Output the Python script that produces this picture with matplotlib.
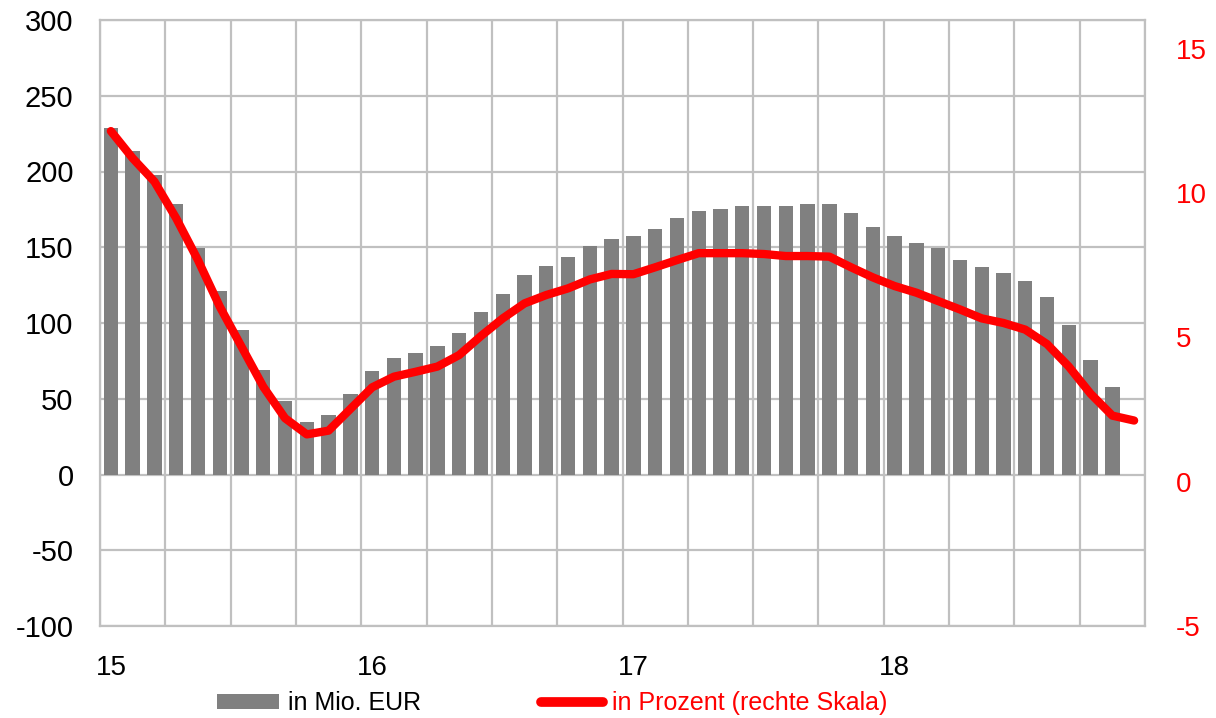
import matplotlib
matplotlib.use("Agg")
import matplotlib.pyplot as plt
from matplotlib.ticker import FixedLocator
from matplotlib.patches import Patch
from matplotlib.lines import Line2D

plt.rcParams["font.family"] = ["Liberation Sans", "DejaVu Sans"]
plt.rcParams["axes.unicode_minus"] = False

# Daten (Monatswerte Jan 2015 - Dez 2018)
jahre = ["15", "16", "17", "18"]
mio_eur = [228.5, 213.4, 198, 178.5, 149.8, 121, 95.2, 69.3, 48.3, 34.7, 39, 53,
           68, 76.8, 80, 84.5, 93.7, 107.2, 119.3, 131.4, 137.5, 143.4, 151.1, 155.7,
           157.2, 161.8, 169.3, 174, 175.5, 177, 177, 177, 178.5, 178.5, 172.4, 163.2,
           157.2, 152.6, 149.5, 141.7, 137, 132.7, 128, 117.4, 99, 75.7, 57.6]
prozent = [12.15, 11.21, 10.40, 9.13, 7.68, 6.07, 4.68, 3.29, 2.20, 1.64, 1.77, 2.52,
           3.27, 3.64, 3.81, 3.99, 4.39, 5.05, 5.66, 6.18, 6.47, 6.70, 7.01, 7.20,
           7.19, 7.43, 7.68, 7.92, 7.92, 7.92, 7.89, 7.82, 7.82, 7.80, 7.43, 7.08,
           6.78, 6.55, 6.26, 5.97, 5.66, 5.50, 5.27, 4.77, 3.99, 3.05, 2.29, 2.12]

grau = "#808080"
rot = "#FF0000"
gitter = "#C0C0C0"

fig = plt.figure(figsize=(12.16, 7.18), dpi=100)
ax = fig.add_axes([100 / 1216, 92 / 718, 1045 / 1216, 606 / 718])

# Balken (linke Skala)
ax.bar(range(len(mio_eur)), mio_eur, width=0.66, color=grau, zorder=2)
ax.set_xlim(-0.5, 47.5)
ax.set_ylim(-100, 300)
ax.set_yticks(range(-100, 301, 50))
ax.set_axisbelow(True)
ax.grid(axis="y", color=gitter, linewidth=1.6)

# Jahreslabels auf Januar, Gitter je Quartal
ax.set_xticks([0, 12, 24, 36])
ax.set_xticklabels(jahre)
ax.xaxis.set_minor_locator(FixedLocator([-0.5 + 3 * k for k in range(17)]))
ax.grid(axis="x", which="minor", color=gitter, linewidth=1.6)
ax.tick_params(axis="x", which="both", length=0, labelsize=20, pad=21)
ax.tick_params(axis="y", length=0, labelsize=21, pad=19)

for s in ax.spines.values():
    s.set_color(gitter)
    s.set_linewidth(1.6)

# Linie (rechte Skala)
ax2 = ax.twinx()
ax2.plot(range(len(prozent)), prozent, color=rot, linewidth=6, solid_capstyle="round",
         solid_joinstyle="round", zorder=3)
ax2.set_ylim(-5, 16)
ax2.set_yticks([-5, 0, 5, 10, 15])
ax2.tick_params(axis="y", length=0, labelsize=20, labelcolor=rot, pad=22)
for s in ax2.spines.values():
    s.set_visible(False)

# Legende
handles = [Patch(facecolor=grau, edgecolor="none"),
           Line2D([0], [0], color=rot, linewidth=7, solid_capstyle="round")]
leg = fig.legend(handles, ["in Mio. EUR", "in Prozent (rechte Skala)"], ncol=2,
                 loc="center", bbox_to_anchor=(552 / 1216, 1 - 703 / 718), frameon=False,
                 fontsize=18, handlelength=2.5, handletextpad=0.35, columnspacing=4.8,
                 handleheight=0.55)
leg.get_texts()[1].set_color(rot)

fig.savefig("out.png", dpi=100)
